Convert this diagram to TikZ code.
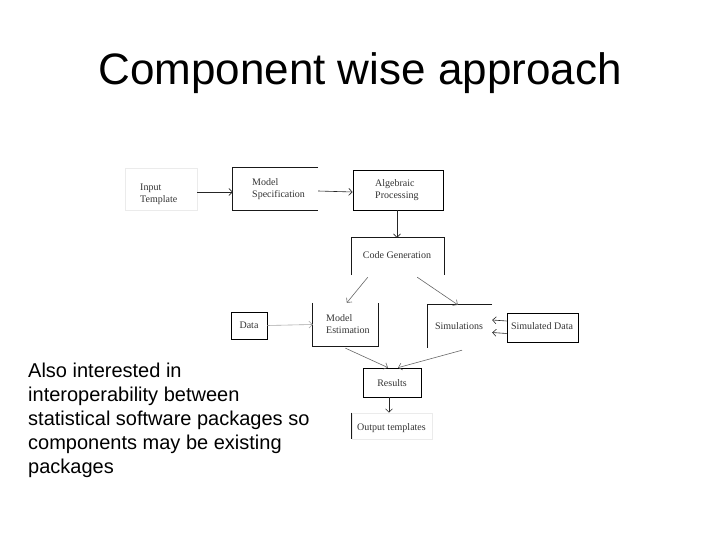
\documentclass[tikz,border=0pt]{standalone}
\usepackage{fontspec}
\setmainfont{Liberation Sans}
\newfontfamily\dgfont{Liberation Serif}
\usetikzlibrary{arrows.meta}
\begin{document}
\begin{tikzpicture}[x=1pt,y=-1pt,
  lbl/.style={font=\dgfont\fontsize{10}{12}\selectfont, text=black!80, inner sep=0pt, align=left},
  blk/.style={inner sep=0pt, minimum width=#1},
  edge/.style={line width=0.7pt, black!90},
  conn/.style={line width=0.6pt, black!85, -{Straight Barb[length=3.5pt,width=7pt]}},
  diag/.style={conn, black!60},
  faint/.style={line width=0.6pt, black!8}]
\useasboundingbox (0,0) rectangle (720,540);
% title and text
\node[font=\fontsize{44}{50}\selectfont, anchor=base, inner sep=0pt] (title) at (360,85) {Component wise approach};
\node[font=\fontsize{20}{24}\selectfont, anchor=north west, align=left, inner sep=0pt] (body) at (28,362.5)
  {Also interested in\\interoperability between\\statistical software packages so\\components may be existing\\packages};
% boxes
\node[blk=72pt, minimum height=42pt, faint, draw=black!8] (it) at (161,189) {};
\node[lbl, anchor=west] at (140,194) {Input\\Template};
\node[blk=85pt, minimum height=42pt] (ms) at (275.5,189) {};
\draw[edge] (ms.north east) -- (ms.north west) -- (ms.south west) -- (ms.south east);
\node[lbl, anchor=west] at (252,189) {Model\\Specification};
\node[blk=90pt, minimum height=40pt, draw, line width=0.7pt] (ap) at (398,190) {};
\node[lbl, anchor=west] at (375,190) {Algebraic\\Processing};
\node[blk=92pt, minimum height=37pt] (cg) at (398,256.5) {};
\draw[edge] (cg.south west) -- (cg.north west) -- (cg.north east) -- (cg.south east);
\node[lbl] at (397,255) {Code Generation};
\node[blk=65pt, minimum height=43pt] (me) at (345.5,324.5) {};
\draw[edge] (me.north west) -- (me.south west) -- (me.south east) -- (me.north east);
\node[lbl, anchor=west] at (326,324.5) {Model\\Estimation};
\node[blk=64pt, minimum height=43pt] (si) at (460,326.5) {};
\draw[edge] (si.north east) -- (si.north west) -- (si.south west);
\node[lbl] at (459,326) {Simulations};
\node[blk=71pt, minimum height=29pt, draw, line width=0.7pt] (sd) at (542.5,327.5) {};
\node[lbl] at (542,326) {Simulated Data};
\node[blk=36pt, minimum height=27pt, draw, line width=0.7pt] (da) at (249,325.5) {};
\node[lbl] at (249,325) {Data};
\node[blk=58pt, minimum height=29pt, draw, line width=0.7pt] (re) at (392,382.5) {};
\node[lbl] at (392,383) {Results};
\node[blk=80pt, minimum height=26pt, faint, draw=black!8] (ot) at (392,426) {};
\draw[edge] (ot.north west) -- (ot.south west);
\node[lbl, anchor=west] at (357,428) {Output templates};
% connectors
\draw[conn] ([yshift=-3pt]it.east) -- ([yshift=-3pt]ms.west);
\draw[conn] ([yshift=-2pt]ms.east) -- ([yshift=-2pt]ap.west);
\draw[conn] ([xshift=-1pt]ap.south) -- ([xshift=-1pt]cg.north);
\draw[diag] ([xshift=16pt,yshift=-2pt]cg.south west) -- ([xshift=34pt]me.north west);
\draw[diag] ([xshift=-27pt,yshift=-2pt]cg.south east) -- ([xshift=30pt]si.north west);
\draw[diag] ([yshift=-2pt]me.south) -- ([xshift=-4pt]re.north);
\draw[diag] ([xshift=2pt,yshift=-2pt]si.south) -- ([xshift=6pt]re.north);
\draw[conn] ([yshift=6.5pt]sd.west) -- ([yshift=6.5pt]si.east);
\draw[conn] ([yshift=-6pt]sd.west) -- ([yshift=-6pt]si.east);
\draw[diag, black!35] (da.east) -- (me.west);
\draw[conn] ([xshift=-3pt]re.south) -- ([xshift=-3pt]ot.north);
\end{tikzpicture}
\end{document}
